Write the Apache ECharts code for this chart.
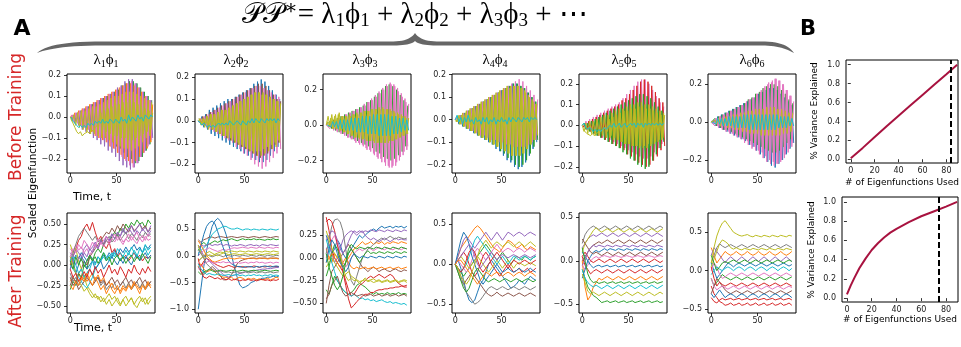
<!DOCTYPE html>
<html><head><meta charset="utf-8">
<script src="https://cdn.jsdelivr.net/npm/echarts@6/dist/echarts.min.js"></script>
<style>html,body{margin:0;padding:0;background:#fff}#c{width:961px;height:347px}</style>
</head><body><div id="c"></div>
<script>
// ---------- DATA ----------
const TE=[0,2,4,6,8,10,12,14,16,18,20,22,24,26,28,30,32,34,36,38,40,42,44,46,48,50,52,54,56,58,60,62,64,66,68,70,72,74,76,78,80,82,84,86,88];
const TO=[1,3,5,7,9,11,13,15,17,19,21,23,25,27,29,31,33,35,37,39,41,43,45,47,49,51,53,55,57,59,61,63,65,67,69,71,73,75,77,79,81,83,85,87,89];
const T3=[0,3,6,9,12,15,18,21,24,27,30,33,36,39,42,45,48,51,54,57,60,63,66,69,72,75,78,81,84,87];

// Before training panels (series values)
const before1=[
[0,-.01,.01,-.02,.02,-.03,.03,-.04,.04,-.05,.05,-.06,.06,-.07,.07,-.08,.08,-.09,.09,-.10,.10,-.11,.11,-.12,.12,-.14,.13,-.15,.15,-.17,.16,-.19,.17,-.20,.17,-.22,.16,-.21,.14,-.19,.12,-.16,.10,-.13,.08],
[.01,-.01,.02,-.02,.03,-.04,.04,-.05,.05,-.06,.06,-.07,.07,-.09,.08,-.10,.09,-.11,.10,-.12,.11,-.14,.12,-.15,.13,-.17,.14,-.18,.15,-.20,.16,-.21,.16,-.22,.15,-.21,.14,-.19,.12,-.17,.10,-.15,.08,-.12,.06],
[-.01,.01,-.03,.02,-.04,.03,-.06,.04,-.07,.05,-.08,.06,-.10,.07,-.11,.08,-.13,.09,-.14,.10,-.16,.11,-.17,.12,-.19,.14,-.21,.15,-.23,.17,-.24,.18,-.25,.18,-.24,.16,-.22,.14,-.19,.12,-.16,.10,-.13,.08,-.10],
[0,.01,-.02,.02,-.03,.03,-.04,.04,-.05,.05,-.06,.06,-.07,.07,-.09,.08,-.10,.09,-.11,.10,-.12,.11,-.14,.12,-.15,.13,-.17,.14,-.19,.15,-.21,.16,-.23,.17,-.24,.16,-.22,.14,-.19,.12,-.17,.10,-.14,.08,-.11],
[0,-.02,.01,-.04,.02,-.05,.03,-.06,.03,-.07,.04,-.08,.05,-.08,.05,-.09,.06,-.10,.07,-.10,.08,-.11,.09,-.12,.10,-.13,.10,-.14,.11,-.15,.12,-.15,.12,-.16,.12,-.15,.11,-.14,.10,-.12,.09,-.10,.08,-.09,.07],
[-.01,-.03,-.05,-.07,-.08,-.07,-.09,-.08,-.08,-.07,-.08,-.06,-.07,-.05,-.04,-.03,.02,-.06,.03,-.07,.04,-.08,.05,-.09,.06,-.09,.06,-.10,.07,-.10,.07,-.11,.08,-.11,.07,-.10,.06,-.09,.05,-.08,.04,-.07,.03,-.06,.02],
[0,-.02,-.03,-.04,-.05,-.04,-.05,-.04,-.05,-.03,-.04,-.03,-.04,-.02,-.03,-.02,-.03,-.01,-.03,-.02,-.03,-.01,-.02,-.03,-.01,-.02,-.03,0,-.02,-.01,-.03,.01,-.02,0,-.01,-.02,.01,-.01,0,-.02,.01,0,-.01,.01,0]];
const before1Time=['E','O','O','E','E','O','O'];

const before2=[
[0,-.01,.02,-.03,.03,-.04,.05,-.06,.06,-.07,.07,-.08,.08,-.09,.09,-.10,.10,-.11,.10,-.12,.11,-.13,.12,-.14,.13,-.15,.14,-.16,.15,-.17,.17,-.18,.18,-.19,.19,-.19,.18,-.18,.16,-.16,.14,-.14,.12,-.12,.10],
[.01,-.01,.02,-.02,.03,-.03,.04,-.04,.05,-.05,.06,-.06,.07,-.07,.08,-.08,.09,-.09,.10,-.10,.11,-.11,.12,-.12,.13,-.13,.14,-.14,.15,-.15,.16,-.16,.17,-.17,.17,-.16,.16,-.15,.14,-.13,.12,-.11,.10,-.10,.09],
[-.01,.01,-.02,.02,-.03,.03,-.04,.04,-.05,.05,-.06,.06,-.07,.07,-.08,.08,-.09,.09,-.10,.10,-.12,.11,-.13,.12,-.15,.13,-.16,.14,-.18,.15,-.20,.16,-.21,.16,-.22,.15,-.21,.14,-.19,.13,-.17,.12,-.15,.11,-.13],
[0,.01,-.02,.01,-.02,.02,-.03,.03,-.04,.03,-.05,.04,-.06,.05,-.07,.05,-.08,.06,-.09,.07,-.10,.08,-.11,.09,-.12,.10,-.13,.11,-.14,.12,-.15,.13,-.16,.13,-.16,.13,-.15,.12,-.14,.11,-.13,.10,-.12,.09,-.10],
[.01,-.02,.01,-.03,.02,-.04,.03,-.04,.03,-.05,.04,-.06,.05,-.07,.05,-.07,.06,-.08,.07,-.09,.08,-.10,.09,-.11,.10,-.12,.11,-.13,.12,-.14,.13,-.14,.13,-.14,.12,-.13,.12,-.12,.11,-.11,.10,-.10,.09,-.09,.08],
[0,-.01,-.02,-.01,-.02,-.03,-.02,-.03,-.02,-.03,-.02,-.01,-.02,-.01,-.02,-.01,-.02,0,-.01,-.02,-.01,0,-.01,-.02,0,-.01,-.02,0,-.01,.01,-.01,.01,0,-.01,.01,0,-.01,.01,0,.01,0,.01,-.01,.01,0]];
const before2Time=['E','O','O','E','O','E'];

const before3=[
[0,-.01,.02,-.02,.03,-.03,.04,-.04,.05,-.05,.06,-.06,.07,-.07,.08,-.08,.09,-.09,.10,-.10,.11,-.11,.13,-.12,.14,-.13,.16,-.15,.18,-.16,.20,-.18,.22,-.19,.23,-.20,.22,-.19,.20,-.17,.17,-.15,.14,-.12,.11],
[.01,-.01,.02,-.02,.03,-.03,.04,-.04,.05,-.05,.06,-.07,.07,-.08,.08,-.09,.09,-.10,.10,-.11,.12,-.13,.13,-.14,.15,-.16,.17,-.18,.19,-.19,.21,-.21,.23,-.23,.24,-.24,.23,-.23,.21,-.20,.18,-.17,.15,-.14,.12],
[0,.01,-.02,.02,-.03,.03,-.04,.04,-.05,.05,-.06,.06,-.07,.07,-.08,.08,-.10,.09,-.11,.10,-.12,.11,-.14,.13,-.15,.14,-.17,.16,-.19,.18,-.21,.20,-.23,.22,-.24,.23,-.23,.22,-.21,.19,-.18,.16,-.15,.13,-.12],
[0,.05,-.01,.06,-.02,.06,-.02,.07,-.03,.05,-.04,.05,-.05,.05,-.06,.06,-.07,.06,-.08,.07,-.08,.08,-.09,.08,-.09,.09,-.10,.09,-.10,.09,-.10,.09,-.10,.09,-.09,.08,-.09,.07,-.08,.06,-.07,.05,-.06,.04,-.05],
[.02,-.01,.04,-.02,.05,-.02,.06,-.03,.05,-.04,.05,-.05,.06,-.06,.06,-.07,.07,-.07,.07,-.08,.08,-.08,.08,-.09,.09,-.09,.09,-.10,.10,-.10,.10,-.10,.09,-.10,.09,-.09,.08,-.08,.07,-.07,.06,-.06,.05,-.05,.04],
[0,.01,-.01,.02,-.01,.02,-.02,.03,-.02,.03,-.03,.03,-.03,.04,-.03,.04,-.04,.04,-.04,.05,-.04,.05,-.05,.05,-.05,.06,-.05,.06,-.06,.06,-.06,.06,-.06,.06,-.06,.05,-.05,.05,-.05,.04,-.04,.04,-.03,.03,-.03]];
const before3Time=['E','O','E','E','O','O'];

const before4=[
[0,.01,-.02,.02,-.03,.03,-.04,.04,-.05,.05,-.06,.06,-.07,.07,-.08,.08,-.09,.09,-.10,.10,-.11,.11,-.13,.12,-.14,.13,-.16,.14,-.18,.15,-.19,.16,-.21,.16,-.22,.15,-.21,.14,-.19,.12,-.16,.10,-.13,.08,-.10],
[-.01,.01,-.02,.02,-.03,.03,-.04,.04,-.05,.05,-.06,.06,-.07,.07,-.08,.08,-.09,.09,-.10,.10,-.11,.11,-.12,.12,-.14,.13,-.15,.14,-.17,.15,-.18,.16,-.20,.16,-.21,.15,-.20,.14,-.18,.12,-.15,.10,-.12,.08,-.09],
[.01,-.01,.02,-.02,.03,-.03,.04,-.04,.05,-.05,.06,-.06,.07,-.07,.08,-.07,.09,-.08,.10,-.09,.11,-.09,.12,-.10,.13,-.10,.14,-.11,.15,-.11,.16,-.12,.17,-.12,.18,-.12,.17,-.12,.15,-.11,.13,-.10,.11,-.09,.09],
[0,-.01,.02,-.02,.03,-.03,.04,-.04,.05,-.05,.06,-.06,.07,-.07,.08,-.08,.09,-.09,.10,-.10,.11,-.11,.12,-.12,.13,-.13,.14,-.14,.15,-.15,.15,-.16,.15,-.16,.15,-.16,.14,-.15,.12,-.13,.10,-.11,.08,-.09,.07],
[-.01,.01,-.02,.02,-.03,.03,-.04,.04,-.05,.05,-.06,.06,-.07,.07,-.08,.08,-.09,.09,-.10,.10,-.11,.11,-.12,.12,-.13,.13,-.14,.14,-.15,.14,-.16,.15,-.16,.15,-.16,.14,-.15,.13,-.13,.11,-.11,.09,-.09,.07,-.07],
[0,.02,-.01,.01,-.02,.01,-.01,.02,-.01,0,-.02,.01,-.01,0,-.02,.01,-.01,.01,-.02,0,-.01,.01,-.02,0,-.01,.01,-.01,0,-.02,.01,-.01,.01,0,-.01,.01,0,-.01,.01,0,.01,-.01,.01,0,.01,0]];
const before4Time=['E','O','O','E','O','E'];

const before5=[
[0,-.01,.02,-.02,.03,-.03,.04,-.04,.05,-.05,.06,-.06,.07,-.06,.08,-.07,.09,-.08,.10,-.09,.11,-.10,.13,-.11,.15,-.12,.17,-.13,.19,-.14,.21,-.15,.22,-.16,.22,-.16,.20,-.15,.17,-.13,.14,-.11,.11,-.09,.09],
[-.01,.01,-.02,.02,-.03,.03,-.04,.04,-.05,.05,-.06,.06,-.07,.07,-.08,.08,-.09,.09,-.10,.10,-.11,.12,-.12,.13,-.14,.15,-.15,.17,-.17,.19,-.18,.21,-.19,.22,-.20,.21,-.19,.19,-.17,.16,-.15,.13,-.12,.11,-.10],
[0,.01,-.02,.01,-.03,.02,-.04,.03,-.05,.04,-.06,.05,-.07,.06,-.08,.07,-.09,.08,-.10,.09,-.11,.10,-.13,.11,-.14,.12,-.16,.13,-.17,.14,-.19,.15,-.20,.15,-.21,.14,-.20,.13,-.17,.11,-.14,.09,-.11,.07,-.08],
[0,-.03,.01,-.04,.02,-.04,.02,-.05,.03,-.05,.04,-.05,.05,-.06,.05,-.06,.06,-.07,.07,-.07,.08,-.08,.08,-.09,.09,-.09,.10,-.10,.10,-.10,.11,-.11,.11,-.11,.10,-.11,.10,-.10,.09,-.09,.08,-.08,.07,-.07,.06],
[-.02,-.03,-.04,-.04,-.05,-.04,-.05,-.04,-.04,-.03,-.03,-.02,-.01,-.03,.03,-.05,.04,-.06,.05,-.07,.06,-.08,.07,-.09,.07,-.09,.08,-.10,.08,-.10,.09,-.10,.09,-.10,.08,-.09,.08,-.09,.07,-.08,.06,-.07,.05,-.06,.05],
[0,.01,-.01,-.02,-.01,-.02,-.03,-.02,-.03,-.02,-.03,-.02,-.01,-.02,-.01,0,-.01,.01,-.01,0,.01,-.01,0,.01,-.01,0,.01,0,.01,-.01,.01,0,.01,-.01,.01,0,.01,0,.01,0,.01,0,.01,0,.01]];
const before5Time=['E','O','E','E','O','E'];

const before6=[
[-.01,.01,-.02,.03,-.03,.04,-.04,.05,-.05,.06,-.06,.07,-.07,.08,-.08,.09,-.09,.10,-.10,.11,-.12,.12,-.13,.13,-.15,.15,-.17,.16,-.19,.17,-.21,.18,-.23,.18,-.24,.17,-.22,.15,-.20,.13,-.17,.11,-.14,.09,-.11],
[0,-.01,.02,-.02,.03,-.03,.04,-.04,.05,-.04,.06,-.05,.07,-.06,.08,-.07,.09,-.08,.10,-.09,.12,-.10,.13,-.11,.15,-.12,.16,-.13,.18,-.14,.19,-.15,.20,-.16,.20,-.16,.19,-.15,.17,-.13,.15,-.11,.12,-.09,.10],
[0,.01,-.02,.02,-.03,.03,-.04,.04,-.05,.05,-.06,.06,-.07,.07,-.08,.08,-.09,.09,-.11,.11,-.12,.12,-.14,.13,-.15,.15,-.17,.17,-.19,.19,-.21,.21,-.22,.22,-.23,.23,-.22,.22,-.20,.20,-.17,.17,-.14,.14,-.11],
[.01,-.01,.02,-.02,.03,-.03,.04,-.04,.05,-.05,.06,-.06,.07,-.07,.08,-.08,.09,-.09,.10,-.10,.12,-.12,.13,-.13,.15,-.15,.16,-.16,.18,-.18,.20,-.20,.21,-.21,.23,-.22,.22,-.21,.20,-.19,.17,-.16,.14,-.13,.11],
[0,-.01,.01,-.01,.02,-.02,.02,-.02,.03,-.03,.03,-.03,.04,-.04,.04,-.04,.05,-.05,.05,-.05,.06,-.06,.06,-.06,.07,-.06,.07,-.07,.07,-.07,.08,-.07,.08,-.07,.08,-.07,.07,-.07,.07,-.06,.06,-.06,.05,-.05,.05],
[0,.01,-.01,.02,-.01,.02,-.02,.02,-.02,.03,-.02,.03,-.03,.03,-.03,.03,-.03,.04,-.03,.04,-.04,.04,-.04,.04,-.04,.04,-.04,.04,-.04,.04,-.04,.04,-.04,.04,-.04,.04,-.03,.03,-.03,.03,-.03,.03,-.02,.02,-.02]];
const before6Time=['O','E','E','O','E','O'];

// After training panels (series values, sampled at T3)
const after1=[
[.10,.05,.12,.08,.15,.10,.05,.12,.08,.02,.10,.06,.12,.08,.15,.10,.18,.12,.20,.15,.22,.16,.20,.25,.18,.22,.15,.24,.20,.25],
[-.20,-.15,-.22,-.10,-.18,-.12,-.20,-.15,-.10,-.18,-.12,-.20,-.15,-.25,-.20,-.30,-.35,-.28,-.32,-.25,-.30,-.22,-.28,-.20,-.25,-.30,-.22,-.28,-.20,-.25],
[-.30,-.20,-.25,-.10,-.15,0,-.05,.10,.05,.15,.20,.15,.25,.30,.25,.35,.40,.35,.45,.40,.50,.45,.52,.48,.55,.50,.52,.45,.55,.50],
[0,.10,.20,.30,.35,.45,.50,.42,.52,.40,.30,.35,.25,.20,.28,.15,.20,.10,.15,.08,.12,.05,.10,.15,.08,.12,.05,.10,.08,.12],
[.15,.10,.20,.15,.10,.20,.25,.18,.22,.28,.20,.30,.25,.35,.30,.38,.32,.40,.35,.42,.38,.45,.40,.35,.42,.38,.44,.40,.36,.42],
[-.25,-.15,-.20,-.10,-.05,.05,0,.10,.15,.20,.25,.30,.35,.40,.38,.45,.40,.48,.42,.50,.45,.40,.48,.42,.45,.50,.44,.48,.40,.45],
[.20,.15,.25,.18,.22,.15,.20,.12,.18,.25,.20,.28,.22,.30,.25,.32,.28,.35,.30,.25,.32,.28,.35,.30,.26,.33,.28,.35,.30,.32],
[-.10,-.20,-.15,-.25,-.20,-.15,-.10,-.05,-.12,-.20,-.15,-.25,-.20,-.30,-.25,-.28,-.22,-.30,-.25,-.20,-.28,-.22,-.30,-.25,-.20,-.28,-.22,-.30,-.25,-.20],
[.25,.15,.20,.05,-.05,-.15,-.25,-.30,-.35,-.40,-.38,-.45,-.40,-.48,-.42,-.50,-.45,-.40,-.48,-.42,-.50,-.45,-.40,-.48,-.42,-.38,-.45,-.40,-.48,-.42],
[0,-.05,-.10,-.15,-.20,-.25,-.28,-.22,-.15,-.05,0,.05,.10,.05,.12,.08,.15,.10,.05,.12,.08,.15,.10,.18,.12,.08,.15,.20,.12,.18],
[-.05,.05,-.10,0,.10,.05,-.05,0,.05,-.05,0,.05,-.05,0,.05,.10,.05,0,.08,.02,.10,.05,0,.08,.12,.05,.10,.15,.08,.12],
[-.15,-.25,-.20,-.30,-.25,-.20,-.15,-.20,-.25,-.20,-.15,-.22,-.18,-.25,-.20,-.15,-.22,-.18,-.25,-.20,-.15,-.22,-.18,-.25,-.20,-.15,-.22,-.18,-.25,-.20],
[-.05,.05,0,.10,.05,.15,.10,.20,.15,.25,.20,.30,.25,.35,.28,.38,.32,.40,.35,.45,.38,.42,.48,.40,.45,.50,.42,.46,.40,.48],
[.05,.15,.25,.35,.40,.45,.40,.35,.30,.35,.28,.32,.25,.30,.35,.28,.32,.38,.30,.35,.40,.32,.38,.35,.30,.38,.33,.40,.35,.38],
[.10,0,-.10,-.20,-.25,-.32,-.28,-.35,-.40,-.35,-.42,-.38,-.45,-.40,-.35,-.42,-.38,-.45,-.50,-.42,-.38,-.45,-.40,-.48,-.52,-.45,-.40,-.48,-.42,-.38],
[.05,.10,0,-.10,-.05,-.15,-.10,-.05,.05,0,.10,.05,.15,.10,.05,.15,.10,.20,.15,.10,.18,.12,.22,.15,.10,.20,.15,.25,.18,.22],
[.10,.20,.15,.25,.20,.30,.25,.20,.28,.22,.32,.25,.30,.35,.28,.32,.38,.30,.35,.28,.32,.38,.30,.35,.40,.32,.36,.30,.38,.34],
[-.25,-.30,-.20,-.25,-.15,-.20,-.10,-.18,-.25,-.15,-.22,-.30,-.25,-.35,-.28,-.22,-.30,-.25,-.35,-.28,-.32,-.25,-.30,-.22,-.28,-.35,-.25,-.30,-.22,-.28],
[.05,-.05,.10,0,.08,-.02,.05,.12,.05,.10,.02,.08,.15,.05,.10,0,.08,.12,.05,.10,.02,.08,.12,.04,.10,.06,.14,.08,.02,.10],
[-.05,-.15,-.10,-.20,-.15,-.08,-.15,-.05,-.12,-.02,-.10,-.05,-.15,-.08,0,-.10,-.05,-.12,-.02,-.08,-.15,-.05,-.10,0,-.08,-.12,-.04,-.10,-.02,-.08]];

const after2=[
[-1.0,-.6,-.2,.1,.35,.55,.65,.70,.65,.55,.40,.20,0,-.20,-.40,-.55,-.60,-.58,-.55,-.50,-.48,-.45,-.45,-.42,-.42,-.40,-.40,-.38,-.40,-.38],
[-.20,-.15,-.25,-.30,-.28,-.25,-.30,-.35,-.38,-.40,-.40,-.42,-.40,-.45,-.42,-.40,-.42,-.45,-.42,-.44,-.42,-.45,-.43,-.45,-.44,-.42,-.45,-.43,-.40,-.42],
[.10,.20,.25,.20,.22,.25,.28,.25,.28,.30,.28,.30,.32,.30,.28,.30,.32,.30,.31,.30,.32,.30,.31,.30,.29,.31,.30,.32,.30,.31],
[-.15,-.20,-.10,-.05,-.08,-.12,-.15,-.18,-.20,-.22,-.20,-.18,-.20,-.22,-.20,-.21,-.20,-.22,-.20,-.21,-.19,-.20,-.22,-.20,-.21,-.20,-.19,-.21,-.20,-.20],
[.20,.10,0,-.05,-.10,-.15,-.20,-.25,-.30,-.35,-.38,-.40,-.38,-.36,-.35,-.33,-.32,-.30,-.30,-.28,-.28,-.27,-.26,-.25,-.25,-.24,-.24,-.23,-.22,-.22],
[.30,.25,.30,.32,.35,.35,.33,.35,.36,.35,.34,.35,.36,.35,.34,.35,.36,.35,.34,.35,.36,.35,.34,.35,.36,.35,.34,.35,.36,.35],
[0,.05,.10,.12,.15,.12,.10,.08,.10,.12,.10,.12,.14,.15,.14,.15,.16,.15,.14,.16,.15,.14,.16,.15,.14,.16,.15,.14,.16,.15],
[-.10,-.05,0,.02,0,-.02,0,.02,0,-.02,.01,0,-.01,.01,0,-.01,.01,0,-.01,.01,0,-.01,.01,0,-.01,.01,0,-.01,.01,0],
[-.10,-.05,0,.05,.08,.05,.02,0,.03,.05,.04,.02,.03,.04,.03,.02,.03,.04,.03,.02,.03,.04,.03,.02,.03,.04,.03,.02,.03,.04],
[.05,.10,.15,.20,.30,.40,.45,.50,.52,.55,.55,.52,.50,.50,.52,.50,.48,.50,.50,.48,.50,.49,.48,.50,.49,.48,.50,.49,.48,.50],
[0,.20,.40,.55,.62,.65,.60,.45,.30,.15,0,-.10,-.15,-.18,-.20,-.20,-.22,-.20,-.21,-.20,-.22,-.20,-.21,-.20,-.19,-.20,-.21,-.20,-.19,-.20],
[-.20,-.30,-.35,-.30,-.25,-.20,-.25,-.30,-.38,-.45,-.45,-.42,-.35,-.25,-.15,-.10,-.08,-.06,-.05,-.05,-.04,-.05,-.04,-.05,-.04,-.05,-.04,-.05,-.04,-.05],
[-.30,-.35,-.30,-.28,-.25,-.28,-.30,-.28,-.27,-.28,-.29,-.28,-.27,-.28,-.29,-.28,-.27,-.28,-.29,-.28,-.27,-.28,-.29,-.28,-.27,-.28,-.29,-.28,-.27,-.28],
[.28,.20,.10,0,-.05,-.10,-.12,-.10,-.08,-.06,-.05,-.04,-.05,-.06,-.05,-.04,-.05,-.06,-.05,-.04,-.05,-.06,-.05,-.04,-.05,-.06,-.05,-.04,-.05,-.06],
[-.05,-.30,-.40,-.42,-.38,-.40,-.43,-.41,-.44,-.42,-.45,-.43,-.46,-.44,-.45,-.47,-.45,-.46,-.44,-.46,-.45,-.47,-.45,-.44,-.46,-.45,-.47,-.45,-.46,-.44],
[.15,.20,.18,.20,.22,.19,.21,.20,.22,.19,.21,.20,.18,.20,.19,.21,.20,.18,.20,.21,.19,.20,.18,.21,.20,.19,.21,.20,.19,.20],
[-.25,-.20,-.15,-.12,-.10,-.12,-.14,-.12,-.13,-.11,-.13,-.12,-.14,-.13,-.12,-.14,-.13,-.12,-.14,-.12,-.13,-.11,-.13,-.12,-.14,-.13,-.12,-.14,-.12,-.13],
[.20,.05,-.05,-.02,.02,0,.03,.05,.07,.06,.08,.07,.09,.08,.07,.09,.08,.07,.09,.08,.07,.09,.08,.07,.09,.08,.07,.09,.08,.07],
[-.15,-.25,-.30,-.35,-.33,-.35,-.36,-.34,-.35,-.37,-.36,-.35,-.37,-.36,-.35,-.37,-.36,-.38,-.36,-.37,-.35,-.37,-.36,-.38,-.36,-.37,-.35,-.37,-.36,-.37],
[.10,.05,-.05,-.15,-.20,-.25,-.28,-.30,-.28,-.30,-.31,-.30,-.32,-.31,-.30,-.32,-.31,-.30,-.32,-.31,-.30,-.32,-.31,-.30,-.32,-.31,-.30,-.32,-.31,-.30]];

const after3=[
[.25,.15,.05,.10,.20,.15,.05,0,.05,.10,.15,.20,.25,.22,.25,.28,.30,.32,.30,.33,.35,.33,.34,.35,.33,.35,.34,.35,.33,.35],
[.10,0,-.05,.05,0,-.05,-.10,-.05,0,.05,.10,.12,.15,.18,.15,.16,.18,.15,.17,.16,.18,.15,.17,.16,.18,.17,.16,.18,.17,.16],
[-.35,-.40,-.30,-.20,-.25,-.30,-.35,-.38,-.40,-.38,-.35,-.30,-.28,-.30,-.32,-.35,-.38,-.40,-.38,-.40,-.39,-.40,-.38,-.40,-.39,-.40,-.38,-.40,-.39,-.40],
[.45,.30,.10,0,-.05,-.10,-.15,-.25,-.35,-.42,-.40,-.35,-.30,-.28,-.25,-.22,-.20,-.22,-.20,-.18,-.20,-.22,-.20,-.18,-.20,-.25,-.28,-.30,-.32,-.32],
[.10,.15,.05,-.05,0,.10,.20,.25,.28,.30,.28,.25,.28,.30,.25,.22,.20,.22,.20,.18,.20,.22,.20,.18,.20,.22,.20,.21,.20,.20],
[-.50,-.30,-.15,-.10,-.05,0,.05,.10,.15,.10,.05,0,-.05,-.10,-.12,-.15,-.12,-.10,-.12,-.15,-.13,-.12,-.14,-.15,-.13,-.12,-.14,-.15,-.13,-.14],
[0,.10,.20,.25,.15,.05,-.05,-.10,-.05,0,.05,.08,.10,.08,.10,.12,.10,.08,.10,.12,.10,.09,.11,.10,.09,.11,.10,.09,.11,.10],
[.05,.20,.35,.42,.43,.40,.30,.10,-.10,-.25,-.30,-.20,-.10,0,.05,.10,.12,.15,.18,.20,.22,.20,.22,.24,.22,.21,.23,.22,.21,.22],
[-.10,-.05,0,-.05,-.10,-.15,-.20,-.18,-.15,-.20,-.22,-.25,-.28,-.25,-.22,-.25,-.24,-.23,-.25,-.24,-.26,-.25,-.24,-.26,-.25,-.24,-.26,-.25,-.24,-.25],
[.20,.10,-.05,-.15,-.25,-.30,-.35,-.38,-.40,-.42,-.40,-.42,-.45,-.44,-.46,-.45,-.47,-.46,-.48,-.47,-.46,-.48,-.49,-.48,-.50,-.49,-.50,-.51,-.50,-.52],
[.40,.43,.40,.30,.15,0,-.15,-.30,-.45,-.55,-.52,-.48,-.45,-.42,-.40,-.40,-.38,-.38,-.36,-.35,-.35,-.34,-.34,-.33,-.33,-.32,-.32,-.31,-.31,-.30],
[-.20,-.10,.05,.15,.10,0,-.10,-.05,.05,.10,.05,0,-.05,0,.05,.08,.05,.06,.05,.07,.06,.05,.07,.06,.05,.07,.06,.05,.07,.06],
[.20,.25,.30,.28,.20,.10,.05,.10,.18,.25,.30,.28,.30,.28,.30,.29,.31,.30,.29,.31,.30,.29,.31,.30,.29,.31,.30,.29,.31,.30],
[-.05,0,.05,0,-.05,-.10,-.05,0,-.05,-.10,-.12,-.10,-.12,-.11,-.10,-.12,-.11,-.10,-.12,-.11,-.10,-.12,-.11,-.10,-.12,-.11,-.10,-.12,-.11,-.10],
[-.45,-.40,-.30,-.25,-.20,-.30,-.38,-.42,-.40,-.38,-.40,-.42,-.41,-.40,-.42,-.41,-.40,-.42,-.41,-.40,-.42,-.41,-.40,-.42,-.41,-.40,-.42,-.41,-.40,-.42],
[.30,.20,.10,.05,0,.05,-.10,-.20,-.25,-.22,-.25,-.24,-.26,-.25,-.24,-.26,-.25,-.27,-.26,-.25,-.27,-.26,-.25,-.27,-.26,-.25,-.27,-.26,-.25,-.27],
[-.05,.10,.20,.15,.05,-.05,-.10,-.15,-.10,0,.05,.02,0,.02,.01,0,.02,.01,0,.02,.01,0,.02,.01,0,.02,.01,0,.02,.01],
[.05,-.10,-.20,-.30,-.35,-.30,-.20,-.05,.10,.15,.12,.10,.12,.11,.10,.12,.11,.10,.12,.11,.10,.12,.11,.10,.12,.11,.10,.12,.11,.10]];

const after4=[
[0,.05,-.05,-.20,-.35,-.45,-.48,-.45,-.35,-.25,-.20,-.10,0,.05,0,-.05,-.10,-.15,-.20,-.25,-.30,-.28,-.25,-.20,-.22,-.25,-.20,-.15,-.18,-.20],
[0,.10,.20,.25,.30,.35,.40,.45,.48,.45,.40,.35,.30,.25,.20,.18,.15,.20,.25,.30,.28,.25,.20,.22,.25,.20,.18,.22,.20,.18],
[0,-.05,-.10,-.15,-.10,-.05,0,.05,.10,.15,.20,.25,.20,.15,.10,.05,.10,.15,.10,.05,0,.05,.10,.08,.05,.10,.08,.05,.08,.10],
[0,.05,.10,.15,.10,0,-.10,-.15,-.10,0,.10,.15,.10,0,-.05,-.10,-.15,-.10,-.05,0,-.05,-.10,-.08,-.05,-.10,-.08,-.05,-.10,-.08,-.05],
[0,.10,.20,.30,.35,.30,.25,.20,.25,.30,.35,.40,.35,.30,.35,.40,.35,.30,.35,.40,.38,.35,.38,.40,.38,.35,.38,.40,.38,.36],
[0,-.10,-.20,-.25,-.20,-.15,-.10,-.15,-.20,-.25,-.30,-.35,-.38,-.40,-.38,-.35,-.38,-.40,-.38,-.36,-.38,-.40,-.38,-.36,-.38,-.40,-.38,-.36,-.38,-.40],
[0,.05,0,-.05,-.10,-.05,.05,.15,.20,.15,.10,.05,.10,.15,.20,.25,.20,.15,.18,.20,.18,.15,.18,.20,.18,.15,.18,.20,.18,.16],
[0,-.05,-.15,-.25,-.35,-.40,-.45,-.50,-.48,-.45,-.40,-.35,-.30,-.28,-.30,-.32,-.30,-.28,-.30,-.32,-.30,-.28,-.30,-.32,-.30,-.28,-.30,-.32,-.30,-.28],
[0,.05,.10,.05,0,-.05,0,.05,.10,.05,0,-.05,-.10,-.05,0,.05,0,-.05,0,.05,0,-.05,0,.02,0,-.02,0,.02,0,-.02],
[0,-.05,-.10,-.05,0,.10,.20,.30,.35,.30,.25,.20,.15,.10,.05,0,.05,.10,.05,0,.05,.10,.08,.05,.08,.10,.08,.05,.08,.10],
[0,.15,.30,.40,.35,.25,.10,0,-.10,-.20,-.25,-.20,-.15,-.10,-.05,0,-.05,-.10,-.08,-.05,-.08,-.10,-.08,-.05,-.08,-.10,-.08,-.05,-.08,-.10],
[0,-.10,-.20,-.30,-.35,-.30,-.20,-.10,-.05,-.10,-.15,-.20,-.22,-.20,-.18,-.20,-.22,-.20,-.18,-.20,-.22,-.20,-.18,-.20,-.22,-.20,-.18,-.20,-.22,-.20],
[0,-.05,-.10,-.05,.05,.15,.20,.15,.05,-.05,-.10,-.05,0,.05,.10,.15,.10,.05,0,-.05,0,.05,.03,0,.03,.05,.03,0,.03,.05],
[0,.05,.10,.15,.20,.25,.20,.10,0,-.05,0,.05,.10,.15,.10,.05,.10,.12,.10,.08,.10,.12,.10,.08,.10,.12,.10,.08,.10,.12],
[0,-.05,-.15,-.20,-.25,-.20,-.10,0,.10,.20,.25,.30,.25,.20,.25,.28,.25,.22,.25,.28,.25,.22,.25,.28,.25,.22,.25,.28,.25,.22],
[0,.05,.05,0,-.05,-.10,-.15,-.20,-.25,-.20,-.15,-.10,-.12,-.15,-.12,-.10,-.12,-.15,-.12,-.10,-.12,-.15,-.12,-.10,-.12,-.15,-.12,-.10,-.12,-.15]];

const after5=[
[.10,.05,0,.05,.10,.12,.10,.12,.14,.12,.14,.13,.12,.14,.13,.12,.14,.13,.12,.14,.13,.12,.14,.13,.12,.14,.13,.12,.14,.13],
[0,-.30,-.45,-.40,-.30,-.25,-.20,-.22,-.20,-.18,-.20,-.22,-.20,-.18,-.20,-.22,-.20,-.18,-.20,-.22,-.20,-.18,-.20,-.22,-.20,-.18,-.20,-.22,-.20,-.18],
[-.10,-.20,-.30,-.35,-.40,-.42,-.45,-.48,-.47,-.46,-.48,-.47,-.46,-.48,-.47,-.46,-.48,-.47,-.46,-.48,-.47,-.46,-.48,-.47,-.46,-.48,-.47,-.46,-.48,-.47],
[.05,-.05,-.10,-.15,-.12,-.10,-.12,-.14,-.12,-.10,-.12,-.14,-.12,-.10,-.12,-.14,-.12,-.10,-.12,-.14,-.12,-.10,-.12,-.14,-.12,-.10,-.12,-.14,-.12,-.10],
[.15,.20,.25,.28,.30,.28,.30,.32,.30,.28,.30,.32,.30,.28,.30,.32,.30,.28,.30,.32,.30,.28,.30,.32,.30,.28,.30,.32,.30,.28],
[0,.05,.10,.15,.18,.20,.22,.20,.22,.24,.22,.20,.22,.24,.22,.20,.22,.24,.22,.20,.22,.24,.22,.20,.22,.24,.22,.20,.22,.24],
[-.05,-.10,-.05,0,.03,.05,.03,.05,.06,.05,.04,.05,.06,.05,.04,.05,.06,.05,.04,.05,.06,.05,.04,.05,.06,.05,.04,.05,.06,.05],
[.20,.30,.35,.38,.40,.38,.36,.38,.40,.38,.36,.38,.40,.38,.36,.38,.40,.38,.36,.38,.40,.38,.36,.38,.40,.38,.36,.38,.40,.38],
[.10,.20,.25,.30,.35,.38,.35,.33,.35,.37,.35,.33,.35,.37,.35,.33,.35,.37,.35,.33,.35,.37,.35,.33,.35,.37,.35,.33,.35,.37],
[-.10,-.20,-.25,-.28,-.30,-.28,-.30,-.32,-.30,-.28,-.30,-.32,-.30,-.28,-.30,-.32,-.30,-.28,-.30,-.32,-.30,-.28,-.30,-.32,-.30,-.28,-.30,-.32,-.30,-.28],
[-.20,-.10,0,-.05,-.08,-.06,-.05,-.07,-.06,-.05,-.07,-.06,-.05,-.07,-.06,-.05,-.07,-.06,-.05,-.07,-.06,-.05,-.07,-.06,-.05,-.07,-.06,-.05,-.07,-.06],
[.05,.10,.05,0,-.02,0,.02,0,-.02,0,.02,0,-.02,0,.02,0,-.02,0,.02,0,-.02,0,.02,0,-.02,0,.02,0,-.02,0],
[-.15,-.25,-.35,-.38,-.36,-.38,-.40,-.38,-.36,-.38,-.40,-.38,-.36,-.38,-.40,-.38,-.36,-.38,-.40,-.38,-.36,-.38,-.40,-.38,-.36,-.38,-.40,-.38,-.36,-.38],
[.25,.20,.15,.10,.08,.10,.08,.06,.08,.10,.08,.06,.08,.10,.08,.06,.08,.10,.08,.06,.08,.10,.08,.06,.08,.10,.08,.06,.08,.10],
[-.05,0,.10,.15,.18,.16,.18,.17,.16,.18,.17,.16,.18,.17,.16,.18,.17,.16,.18,.17,.16,.18,.17,.16,.18,.17,.16,.18,.17,.16],
[.15,0,-.15,-.22,-.25,-.24,-.26,-.25,-.24,-.26,-.25,-.24,-.26,-.25,-.24,-.26,-.25,-.24,-.26,-.25,-.24,-.26,-.25,-.24,-.26,-.25,-.24,-.26,-.25,-.24]];

const after6=[
[.10,0,-.10,-.05,0,.05,.10,.08,.05,.08,.10,.08,.06,.08,.10,.08,.06,.08,.10,.08,.06,.08,.10,.08,.06,.08,.10,.08,.06,.08],
[.30,.20,.10,.15,.20,.25,.22,.20,.22,.25,.22,.20,.22,.25,.22,.20,.22,.25,.22,.20,.22,.25,.22,.20,.22,.25,.22,.20,.22,.25],
[-.10,-.20,-.15,-.10,-.05,-.08,-.10,-.12,-.10,-.08,-.10,-.12,-.10,-.08,-.10,-.12,-.10,-.08,-.10,-.12,-.10,-.08,-.10,-.12,-.10,-.08,-.10,-.12,-.10,-.08],
[-.20,-.30,-.35,-.40,-.42,-.45,-.44,-.42,-.45,-.44,-.42,-.45,-.44,-.42,-.45,-.44,-.42,-.45,-.44,-.42,-.45,-.44,-.42,-.45,-.44,-.42,-.45,-.44,-.42,-.45],
[.20,.30,.25,.20,.15,.10,.15,.18,.15,.12,.15,.18,.15,.12,.15,.18,.15,.12,.15,.18,.15,.12,.15,.18,.15,.12,.15,.18,.15,.12],
[-.30,-.20,-.10,-.15,-.20,-.25,-.28,-.30,-.28,-.26,-.28,-.30,-.28,-.26,-.28,-.30,-.28,-.26,-.28,-.30,-.28,-.26,-.28,-.30,-.28,-.26,-.28,-.30,-.28,-.26],
[0,.10,.05,-.05,-.10,-.08,-.05,-.03,-.05,-.07,-.05,-.03,-.05,-.07,-.05,-.03,-.05,-.07,-.05,-.03,-.05,-.07,-.05,-.03,-.05,-.07,-.05,-.03,-.05,-.07],
[.10,.20,.30,.35,.32,.30,.32,.34,.32,.30,.32,.34,.32,.30,.32,.34,.32,.30,.32,.34,.32,.30,.32,.34,.32,.30,.32,.34,.32,.30],
[.10,.30,.45,.55,.62,.65,.60,.55,.50,.48,.46,.45,.46,.47,.45,.44,.46,.45,.44,.46,.45,.44,.46,.45,.44,.46,.45,.44,.46,.45],
[-.05,0,.05,.02,0,.03,.05,.03,0,.03,.05,.03,0,.03,.05,.03,0,.03,.05,.03,0,.03,.05,.03,0,.03,.05,.03,0,.03],
[-.30,-.35,-.30,-.25,-.30,-.35,-.32,-.30,-.32,-.35,-.32,-.30,-.32,-.35,-.32,-.30,-.32,-.35,-.32,-.30,-.32,-.35,-.32,-.30,-.32,-.35,-.32,-.30,-.32,-.35],
[.05,-.10,-.20,-.15,-.18,-.20,-.18,-.16,-.18,-.20,-.18,-.16,-.18,-.20,-.18,-.16,-.18,-.20,-.18,-.16,-.18,-.20,-.18,-.16,-.18,-.20,-.18,-.16,-.18,-.20],
[.05,.15,.25,.35,.40,.38,.35,.30,.28,.30,.28,.27,.29,.28,.27,.29,.28,.27,.29,.28,.27,.29,.28,.27,.29,.28,.27,.29,.28,.27],
[-.10,-.20,-.25,-.22,-.20,-.22,-.24,-.22,-.20,-.22,-.24,-.22,-.20,-.22,-.24,-.22,-.20,-.22,-.24,-.22,-.20,-.22,-.24,-.22,-.20,-.22,-.24,-.22,-.20,-.22],
[.20,.10,0,.05,.10,.12,.10,.12,.14,.12,.10,.12,.14,.12,.10,.12,.14,.12,.10,.12,.14,.12,.10,.12,.14,.12,.10,.12,.14,.12],
[-.35,-.40,-.42,-.38,-.36,-.38,-.37,-.36,-.38,-.37,-.36,-.38,-.37,-.36,-.38,-.37,-.36,-.38,-.37,-.36,-.38,-.37,-.36,-.38,-.37,-.36,-.38,-.37,-.36,-.38]];

// Panel B
const eigBefore=[0,10,20,30,40,50,60,70,80,89];
const varBefore=[.01,.12,.235,.35,.46,.57,.68,.79,.90,1.0];
const eigAfter=[0,3,6,10,15,20,25,30,35,40,50,60,70,80,89];
const varAfter=[.04,.13,.21,.31,.41,.50,.57,.63,.68,.72,.79,.85,.90,.95,1.0];
const cutBefore=84, cutAfter=74;

// Tick values
const xTicksTime=[0,50];
const yTicksBefore=[[-0.2,-0.1,0,0.1,0.2],[-0.2,-0.1,0,0.1,0.2],[-0.2,0,0.2],[-0.2,-0.1,0,0.1,0.2],[-0.2,-0.1,0,0.1,0.2],[-0.2,0,0.2]];
const yTicksAfter=[[-0.5,-0.25,0,0.25,0.5],[-1,-0.5,0,0.5],[-0.5,-0.25,0,0.25],[-0.5,0,0.5],[-0.5,0,0.5],[-0.5,0,0.5]];
const xTicksEig=[0,20,40,60,80];
const yTicksVar=[0,0.2,0.4,0.6,0.8,1.0];

// ---------- STYLE / LAYOUT ----------
const TAB={blue:'#1f77b4',orange:'#ff7f0e',green:'#2ca02c',red:'#d62728',purple:'#9467bd',brown:'#8c564b',pink:'#e377c2',gray:'#7f7f7f',olive:'#bcbd22',cyan:'#17becf'};
const beforeColors=[
['green','orange','purple','pink','olive','olive','cyan'],
['blue','brown','pink','olive','olive','cyan'],
['green','pink','pink','olive','olive','cyan'],
['blue','green','pink','olive','olive','cyan'],
['pink','red','green','olive','olive','cyan'],
['blue','green','pink','pink','olive','cyan']];
const base10=['blue','orange','green','red','purple','brown','pink','gray','olive','cyan'];
const afterColors=[
base10.concat(['blue','brown','purple','gray','olive','cyan','pink','orange','green','red']),
base10.concat(['blue','brown','green','orange','red','purple','pink','olive','cyan','gray']),
base10.concat(['red','green','purple','orange','brown','olive','blue','green']),
base10.concat(['blue','green','red','purple','olive','orange']),
base10.concat(['blue','red','olive','brown','purple','green']),
base10.concat(['blue','red','olive','pink','green','red'])];
const colLeft=[67,195,323,452,579,708];
const colW=88;
const yRangeBefore=[[-0.267,0.205],[-0.24,0.215],[-0.271,0.289],[-0.237,0.203],[-0.23,0.247],[-0.269,0.255]];
const yRangeAfter=[[-0.585,0.634],[-1.07,0.80],[-0.606,0.496],[-0.61,0.64],[-0.6,0.55],[-0.55,0.75]];
const decBefore=[1,1,1,1,1,1], decAfter=[2,1,2,1,1,1];
const xRangeTime=[-3.5,91.5];

const grids=[],xAxes=[],yAxes=[],series=[];
const fmt=(v,d)=>(v<0?'\u2212':'')+Math.abs(v).toFixed(d);
function panel(l,t,w,h,xr,xt,yr,yt,dec,fs,zeroOff){
  const i=grids.length;
  grids.push({left:l,top:t,width:w,height:h,show:true,borderColor:'#000',borderWidth:1,backgroundColor:'transparent'});
  const tick={show:true,length:3,lineStyle:{color:'#000',width:0.8}};
  xAxes.push({gridIndex:i,type:'value',min:xr[0],max:xr[1],axisLine:{show:false,onZero:!zeroOff},splitLine:{show:false},
    axisTick:Object.assign({customValues:xt},tick),
    axisLabel:{customValues:xt,fontSize:fs,color:'#222',margin:4,fontFamily:'DejaVu Sans',formatter:v=>String(Math.round(v))}});
  yAxes.push({gridIndex:i,type:'value',min:yr[0],max:yr[1],axisLine:{show:false,onZero:!zeroOff},splitLine:{show:false},
    axisTick:Object.assign({customValues:yt},tick),
    axisLabel:{customValues:yt,fontSize:fs,color:'#222',margin:6,fontFamily:'DejaVu Sans',formatter:v=>fmt(v,dec)}});
  return i;
}
function addLine(gi,times,vals,color,width){
  const d=[];vals.forEach((v,k)=>{if(times[k]!==undefined)d.push([times[k],v]);});
  series.push({type:'line',xAxisIndex:gi,yAxisIndex:gi,data:d,symbol:'none',showSymbol:false,silent:true,animation:false,
    lineStyle:{width:width,color:color},itemStyle:{color:color},z:2});
  return series[series.length-1];
}
const beforeData=[before1,before2,before3,before4,before5,before6];
const beforeTime=[before1Time,before2Time,before3Time,before4Time,before5Time,before6Time];
const afterData=[after1,after2,after3,after4,after5,after6];
for(let c=0;c<6;c++){
  const g=panel(colLeft[c],74,colW,99,xRangeTime,xTicksTime,yRangeBefore[c],yTicksBefore[c],decBefore[c],8,true);
  beforeData[c].forEach((vals,k)=>addLine(g,beforeTime[c][k]==='E'?TE:TO,vals,TAB[beforeColors[c][k]],1));
}
for(let c=0;c<6;c++){
  const g=panel(colLeft[c],213,colW,100,xRangeTime,xTicksTime,yRangeAfter[c],yTicksAfter[c],decAfter[c],8,true);
  afterData[c].forEach((vals,k)=>addLine(g,T3,vals,TAB[afterColors[c][k%afterColors[c].length]],1));
}
const VC='#a8123f';
const gB1=panel(846,60,112,103,[-4,89.7],xTicksEig,[-0.04,1.05],yTicksVar,1,8,false);
const s1=addLine(gB1,eigBefore,varBefore,VC,2);
s1.markLine={symbol:'none',silent:true,animation:false,label:{show:false},lineStyle:{type:[6,3],width:2,color:'#000'},data:[{xAxis:cutBefore}]};
const gB2=panel(842,197,116,105,[-4,89.7],xTicksEig,[-0.04,1.05],yTicksVar,1,8,false);
const s2=addLine(gB2,eigAfter,varAfter,VC,2);
s2.markLine={symbol:'none',silent:true,animation:false,label:{show:false},lineStyle:{type:[6,3],width:2,color:'#000'},data:[{xAxis:cutAfter}]};

// ---------- TEXT / DECORATION ----------
const serif='"Liberation Serif","DejaVu Serif",serif';
const headRich={m:{font:'15px '+serif,lineHeight:18,fill:'#000'},s:{font:'10px '+serif,lineHeight:10,verticalAlign:'bottom',fill:'#000'}};
const headX=[106,236,365,495,624,752];
const graphics=[];
headX.forEach((x,i)=>{const n=i+1;graphics.push({type:'text',x:x,y:60,silent:true,style:{text:'{m|λ}{s|'+n+'}{m|ϕ}{s|'+n+'}',rich:headRich,align:'center',verticalAlign:'middle'}});});
const fRich={m:{font:'29px '+serif,lineHeight:32,fill:'#000'},s:{font:'19px '+serif,lineHeight:16,verticalAlign:'bottom',fill:'#000'},p:{font:'20px '+serif,lineHeight:16,verticalAlign:'top',fill:'#000'}};
graphics.push({type:'text',x:415,y:15,silent:true,style:{text:'{m|𝒫𝒫}{p|∗}{m|= λ}{s|1}{m|ϕ}{s|1}{m| + λ}{s|2}{m|ϕ}{s|2}{m| + λ}{s|3}{m|ϕ}{s|3}{m| + ⋯}',rich:fRich,align:'center',verticalAlign:'middle'}});
// curly brace outline (decoration): sampled cubic Bezier segments
const braceSegs=[[37,53],
 ['C',[45,46],[62,42],[95,41.5]],['L',[390,41.5]],['C',[404,41.5],[411,39],[415,33]],['C',[419,39],[426,41.5],[440,41.5]],['L',[765,41.5]],['C',[781,42],[789,46],[794,53]],
 ['C',[786,48.5],[778,46],[765,45.5]],['L',[440,45.5]],['C',[425,45.5],[418,44],[415,41]],['C',[412,44],[405,45.5],[390,45.5]],['L',[95,45.5]],['C',[64,46],[47,49],[37,53]]];
const bracePts=[braceSegs[0]];
for(let k=1;k<braceSegs.length;k++){
  const s=braceSegs[k], p0=bracePts[bracePts.length-1];
  if(s[0]==='L'){bracePts.push(s[1]);}
  else{for(let j=1;j<=12;j++){const u=j/12,a=(1-u)*(1-u)*(1-u),b=3*(1-u)*(1-u)*u,c=3*(1-u)*u*u,d=u*u*u;
    bracePts.push([a*p0[0]+b*s[1][0]+c*s[2][0]+d*s[3][0],a*p0[1]+b*s[1][1]+c*s[2][1]+d*s[3][1]]);}}
}
graphics.push({type:'polygon',silent:true,shape:{points:bracePts},style:{fill:'#666'}});
const sans='"DejaVu Sans",sans-serif';
graphics.push({type:'text',x:22,y:29,silent:true,style:{text:'A',font:'bold 22px '+sans,fill:'#000',align:'center',verticalAlign:'middle'}});
graphics.push({type:'text',x:808,y:30,silent:true,style:{text:'B',font:'bold 21px '+sans,fill:'#000',align:'center',verticalAlign:'middle'}});
graphics.push({type:'text',x:17,y:117,rotation:Math.PI/2,silent:true,style:{text:'Before Training',font:'17px '+sans,fill:'#d62728',align:'center',verticalAlign:'middle'}});
graphics.push({type:'text',x:17,y:271,rotation:Math.PI/2,silent:true,style:{text:'After Training',font:'17px '+sans,fill:'#d62728',align:'center',verticalAlign:'middle'}});
graphics.push({type:'text',x:33,y:183,rotation:Math.PI/2,silent:true,style:{text:'Scaled Eigenfunction',font:'10.5px '+sans,fill:'#000',align:'center',verticalAlign:'middle'}});
graphics.push({type:'text',x:92,y:197,silent:true,style:{text:'Time, t',font:'11px '+sans,fill:'#000',align:'center',verticalAlign:'middle'}});
graphics.push({type:'text',x:93,y:328,silent:true,style:{text:'Time, t',font:'11px '+sans,fill:'#000',align:'center',verticalAlign:'middle'}});
graphics.push({type:'text',x:815,y:111,rotation:Math.PI/2,silent:true,style:{text:'% Variance Explained',font:'9px '+sans,fill:'#000',align:'center',verticalAlign:'middle'}});
graphics.push({type:'text',x:812,y:250,rotation:Math.PI/2,silent:true,style:{text:'% Variance Explained',font:'9px '+sans,fill:'#000',align:'center',verticalAlign:'middle'}});
graphics.push({type:'text',x:902,y:183,silent:true,style:{text:'# of Eigenfunctions Used',font:'9px '+sans,fill:'#000',align:'center',verticalAlign:'middle'}});
graphics.push({type:'text',x:900,y:320,silent:true,style:{text:'# of Eigenfunctions Used',font:'9px '+sans,fill:'#000',align:'center',verticalAlign:'middle'}});

const chart=echarts.init(document.getElementById('c'),null,{renderer:'canvas'});
chart.setOption({animation:false,backgroundColor:'#fff',grid:grids,xAxis:xAxes,yAxis:yAxes,series:series,graphic:{elements:graphics}});
</script></body></html>
